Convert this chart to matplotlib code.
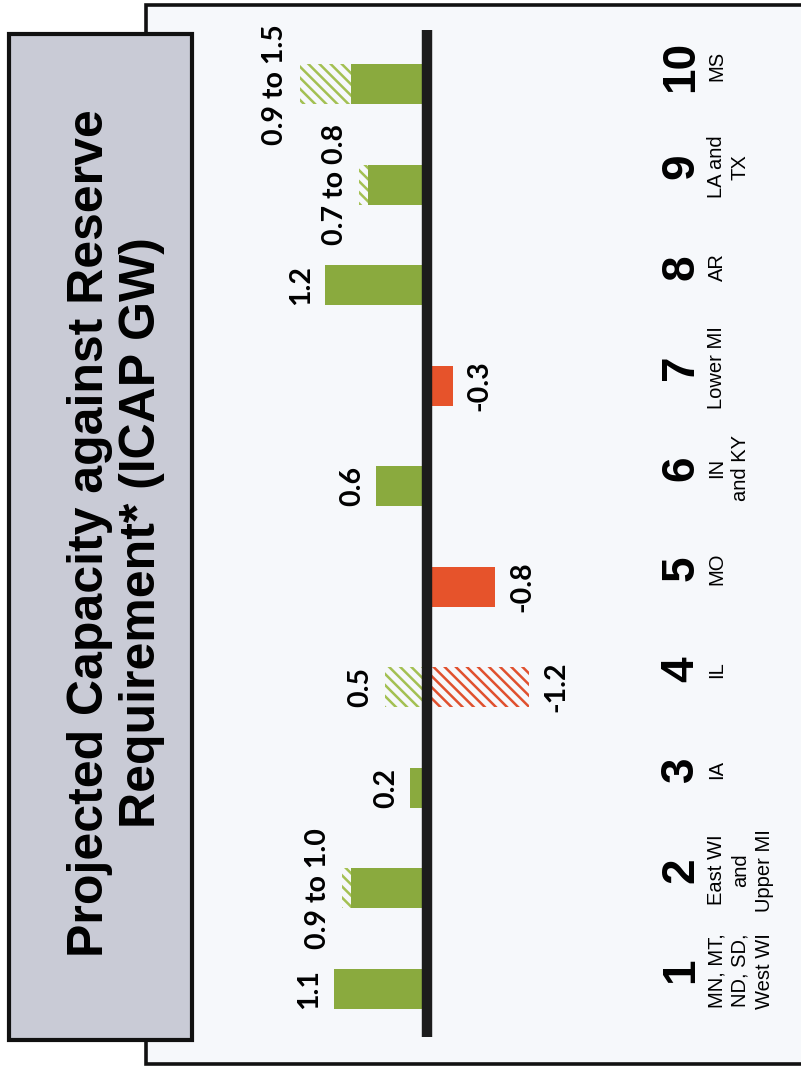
import matplotlib.pyplot as plt
import numpy as np
from matplotlib.patches import Rectangle


# zones, firm capacity margin and upper end of the range (GW)
zones = np.arange(1, 11)
names = ["MN, MT,\nND, SD,\nWest WI", "East WI\nand\nUpper MI", "IA", "IL", "MO",
         "IN\nand KY", "Lower MI", "AR", "LA and\nTX", "MS"]
firm = np.array([1.1, 0.9, 0.2, 0.0, -0.8, 0.6, -0.3, 1.2, 0.7, 0.9])
upper = np.array([1.1, 1.0, 0.2, 0.5, 0.0, 0.6, 0.0, 1.2, 0.8, 1.5])
# uncertain shortfall (zone 4 only)
short = np.array([0.0, 0.0, 0.0, -1.2, 0.0, 0.0, 0.0, 0.0, 0.0, 0.0])

green = "#8aaa3e"
red = "#e6532b"
W, H = 801, 1068

plt.rcParams['hatch.linewidth'] = 1.8

fig = plt.figure(figsize=(W / 100, H / 100), dpi=100)
fig.patch.set_facecolor("white")

def box(x0, y0, x1, y1, **kw):
    # rectangle given in pixels from the top-left corner
    r = Rectangle((x0 / W, 1 - y1 / H), (x1 - x0) / W, (y1 - y0) / H,
                  transform=fig.transFigure, **kw)
    fig.add_artist(r)
    return r

# white panel and grey title box
box(146, 5, 830, 1064, facecolor="#f6f8fb", edgecolor="#111111", lw=2.6, zorder=-3)
box(9, 34, 192, 1040, facecolor="#c9cbd6", edgecolor="#111111", lw=3, zorder=-2)
fig.text(116 / W, 1 - 533 / H, "Projected Capacity against Reserve\nRequirement* (ICAP GW)",
         rotation=90, ha="center", va="center", fontsize=36, fontweight="bold",
         family="Liberation Sans", linespacing=1.15)

ax = fig.add_axes([200 / W, 1 - 1043 / H, 600 / W, 1013 / H])
ax.axis("off")
ax.set_ylim(0.46, 10.54)
ax.set_xlim((427 - 200) / 85, -(800 - 427) / 85)

bw = 0.4
pos = np.clip(firm, 0, None)
neg = np.clip(firm, None, 0)
ax.barh(zones, pos, height=bw, color=green, zorder=2)
ax.barh(zones, neg, height=bw, color=red, zorder=2)
ax.barh(zones, upper - pos, left=pos, height=bw, facecolor="none",
        edgecolor="#a3c052", hatch="\\\\\\", lw=0, zorder=2)
ax.barh(zones, short, height=bw, facecolor="none",
        edgecolor="#e0502e", hatch="\\\\\\", lw=0, zorder=2)
ax.vlines(0, 0.52, 10.54, color="#1c1c1c", lw=7.5, zorder=3)

lab_font = dict(rotation=90, va="center", fontsize=20.5, fontweight="bold",
                family=["Lato", "DejaVu Sans"], textcoords="offset points")
for z, f, u, s in zip(zones, firm, upper, short):
    if u > 0:
        txt = f"{f:.1f} to {u:.1f}" if 0 < f < u else f"{u:.1f}"
        ax.annotate(txt, (u, z), xytext=(-8, 0), ha="right", **lab_font)
    low = min(f, s)
    if low < 0:
        ax.annotate(f"{low:.1f}", (low, z), xytext=(10, 0), ha="left", **lab_font)

# zone numbers and names under the axis
for z, n in zip(zones, names):
    ax.text(-2.99, z + 0.18, str(z), rotation=90, ha="center", va="center",
            fontsize=33, fontweight="bold", family="Liberation Sans")
    ax.text(-3.3, z + 0.18, n, rotation=90, ha="left", va="center",
            multialignment="center", fontsize=14.5, family="Liberation Sans",
            linespacing=1.3)

fig.savefig("out.png", dpi=100)
